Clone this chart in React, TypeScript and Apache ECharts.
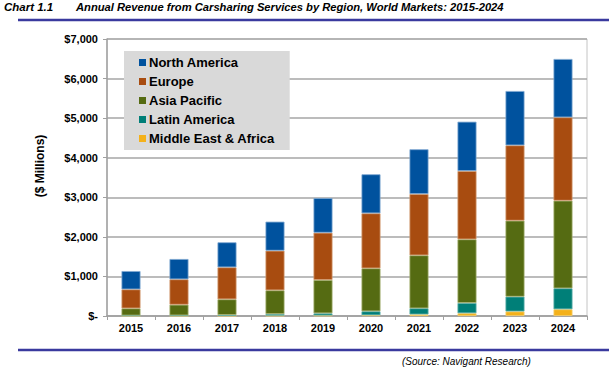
import React, { useEffect, useRef } from "react";
import * as echarts from "echarts";

const years = ["2015", "2016", "2017", "2018", "2019", "2020", "2021", "2022", "2023", "2024"];
const northAmerica = [463, 513, 632, 733, 875, 986, 1130, 1246, 1373, 1474];
const europe = [480, 641, 808, 1002, 1195, 1390, 1549, 1726, 1904, 2107];
const asiaPacific = [180, 270, 395, 600, 842, 1086, 1339, 1610, 1921, 2214];
const latinAmerica = [10, 12, 22, 40, 55, 100, 155, 258, 373, 530];
const middleEastAfrica = [3, 4, 5, 9, 13, 19, 40, 70, 115, 170];
const yTicks = [0, 1000, 2000, 3000, 4000, 5000, 6000, 7000];

const FONT = "Liberation Sans, Arial, sans-serif";

export default function App() {
  const ref = useRef<HTMLDivElement>(null);
  useEffect(() => {
    if (!ref.current) return;
    const chart = echarts.init(ref.current, undefined, { renderer: "svg" });
    const mk = (name: string, data: number[], color: string, border: string) => ({
      name,
      type: "bar",
      stack: "total",
      data,
      barWidth: 19,
      itemStyle: { color, borderColor: border, borderWidth: 0.8 },
    });
    chart.setOption({
      animation: false,
      textStyle: { fontFamily: FONT },
      grid: {
        left: 107,
        right: 22,
        top: 39,
        bottom: 53,
        show: true,
        borderColor: "#C4C4C4",
        borderWidth: 1,
      },
      legend: {
        data: ["North America", "Europe", "Asia Pacific", "Latin America", "Middle East & Africa"],
        orient: "vertical",
        left: 124,
        top: 51,
        backgroundColor: "#D9D9D9",
        padding: [4, 15, 4, 15],
        icon: "rect",
        itemWidth: 7,
        itemHeight: 7,
        itemGap: 4,
        selectedMode: false,
        itemStyle: { borderWidth: 0 },
        textStyle: {
          fontFamily: FONT,
          fontWeight: "bold",
          fontSize: 13,
          color: "#000",
          lineHeight: 15,
          padding: [0, 0, 0, -2],
        },
      },
      xAxis: {
        type: "category",
        data: years,
        axisLine: { lineStyle: { color: "#A0A0A0", width: 1.5 } },
        axisTick: { show: true, length: 4, lineStyle: { color: "#A0A0A0" } },
        axisLabel: { fontFamily: FONT, fontWeight: "bold", fontSize: 11, color: "#000", margin: 6 },
      },
      yAxis: {
        type: "value",
        min: 0,
        max: 7000,
        interval: 1000,
        axisLine: { show: true, lineStyle: { color: "#A0A0A0", width: 1.5 } },
        axisTick: { show: true, length: 4, lineStyle: { color: "#A0A0A0" } },
        splitLine: { lineStyle: { color: "#A6A6A6", width: 1.5 } },
        axisLabel: {
          fontFamily: FONT,
          fontWeight: "bold",
          fontSize: 11,
          color: "#000",
          margin: 9,
          formatter: (v: number) =>
            yTicks.includes(v) ? (v === 0 ? "$-" : "$" + v.toLocaleString("en-US")) : "",
        },
      },
      graphic: [
        {
          type: "text",
          left: 4,
          top: 1,
          style: { text: "Chart 1.1", font: `italic bold 11.5px ${FONT}`, fill: "#000" },
        },
        {
          type: "text",
          left: 76,
          top: 1,
          style: {
            text: "Annual Revenue from Carsharing Services by Region, World Markets: 2015-2024",
            font: `italic bold 11.2px ${FONT}`,
            fill: "#000",
          },
        },
        {
          type: "line",
          shape: { x1: 18, y1: 20, x2: 609, y2: 20 },
          style: { stroke: "#3A3A9E", lineWidth: 2.5 },
        },
        {
          type: "line",
          shape: { x1: 18, y1: 350, x2: 609, y2: 350 },
          style: { stroke: "#3A3A9E", lineWidth: 2.5 },
        },
        {
          type: "text",
          x: 40,
          y: 166,
          rotation: Math.PI / 2,
          style: {
            text: "($ Millions)",
            font: `bold 12px ${FONT}`,
            fill: "#000",
            align: "center",
            verticalAlign: "middle",
          },
        },
        {
          type: "text",
          left: 402,
          top: 356,
          style: { text: "(Source: Navigant Research)", font: `italic 10px ${FONT}`, fill: "#000" },
        },
      ],
      series: [
        mk("Middle East & Africa", middleEastAfrica, "#F4B11A", "#F8D070"),
        mk("Latin America", latinAmerica, "#007F78", "#5FB0AB"),
        mk("Asia Pacific", asiaPacific, "#556B12", "#A3B070"),
        mk("Europe", europe, "#A84C10", "#D29A70"),
        mk("North America", northAmerica, "#00529E", "#7FA8D2"),
      ],
    });
    return () => chart.dispose();
  }, []);
  return <div ref={ref} style={{ width: 609, height: 369, position: "absolute", left: 0, top: 0 }} />;
}
